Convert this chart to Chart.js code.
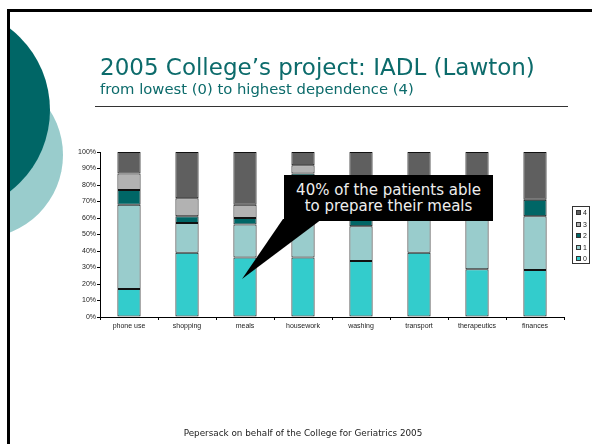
<!DOCTYPE html>
<html>
<head>
<meta charset="utf-8">
<script src="https://cdn.jsdelivr.net/npm/chart.js@4"></script>
<style>
  body { margin: 0; width: 592px; height: 444px; overflow: hidden; background: #fff; position: relative; }
  .slide { position: absolute; left: 7px; top: 9px; width: 700px; height: 600px; border: 3px solid #000; overflow: hidden; }
  .circle { position: absolute; border-radius: 50%; }
  .dark { left: -166px; top: -5px; width: 206px; height: 206px; background: #006666; }
  .light { left: -113px; top: 60px; width: 166px; height: 166px; background: #99cccc; }
  #myChart { position: absolute; left: 0; top: 0; }
  .title { position: absolute; left: 100px; top: 56px; font: 23px/23px "DejaVu Sans", sans-serif; color: #0c6b6b; white-space: nowrap; }
  .subtitle { position: absolute; left: 100px; top: 82px; font: 14.8px/14.8px "DejaVu Sans", sans-serif; color: #0c6b6b; white-space: nowrap; }
  .rule { position: absolute; left: 95px; top: 106px; width: 473px; height: 0; border-top: 1.5px solid #333; }
  .callout { position: absolute; left: 284px; top: 175px; width: 209px; height: 46px; background: #000;
             color: #eee; font: 15px/16.5px "DejaVu Sans", sans-serif; text-align: center;
             display: flex; flex-direction: column; justify-content: center; }
  .legend { position: absolute; left: 572px; top: 206px; width: 16px; height: 56px; border: 1px solid #333; }
  .legend div { position: absolute; left: 3px; font: 7px/7px "Liberation Sans", sans-serif; color: #222; white-space: nowrap; }
  .legend span { display: inline-block; width: 3px; height: 3px; border: 1px solid #333; margin-right: 2px; vertical-align: 0; }
  .footer { position: absolute; left: 0; width: 606px; top: 429px; text-align: center; font: 8.8px/9px "DejaVu Sans", sans-serif; color: #222; }
</style>
</head>
<body>
<div class="slide">
  <div class="circle light"></div>
  <div class="circle dark"></div>
</div>
<canvas id="myChart" width="592" height="444"></canvas>
<div class="title">2005 College’s project: IADL (Lawton)</div>
<div class="subtitle">from lowest (0) to highest dependence (4)</div>
<div class="rule"></div>
<div class="callout"><div>40% of the patients able</div><div>to prepare their meals</div></div>
<div class="legend" id="legend"></div>
<div class="footer">Pepersack on behalf of the College for Geriatrics 2005</div>

<script>
// IADL items and share of patients per dependence level (percent)
const categories = ['phone use', 'shopping', 'meals', 'housework', 'washing', 'transport', 'therapeutics', 'finances'];
const level0 = [17, 39, 36, 36, 34, 39, 29, 28.5];
const level1 = [51, 18, 20, 44, 21, 25, 36, 32.5];
const level2 = [9, 4, 4, 7, 8, 6, 6, 10];
const level3 = [10, 11, 8, 5, 10, 10, 9, 0];
const level4 = [13, 28, 32, 8, 27, 20, 20, 29];
const levelLabels = ['0', '1', '2', '3', '4'];
const levelColors = ['#33cccc', '#99cccc', '#006666', '#b2b2b2', '#5f5f5f'];

const levels = [level0, level1, level2, level3, level4];

// the callout points into the lowest block of the meals bar
const calloutIndex = 2;
const calloutValue = 23;

const datasets = levels.map((values, i) => ({
    label: levelLabels[i],
    data: values,
    backgroundColor: levelColors[i],
    borderColor: '#111',
    borderWidth: 1,
    borderSkipped: false,
    barPercentage: 0.4,
    categoryPercentage: 1
}));

// black wedge from the callout box down to the bar
const calloutWedge = {
    id: 'calloutWedge',
    afterDatasetsDraw(chart) {
        const { ctx, scales: { x, y } } = chart;
        const tipX = x.getPixelForValue(calloutIndex) - 3;
        const tipY = y.getPixelForValue(calloutValue);
        ctx.save();
        ctx.fillStyle = '#000';
        ctx.beginPath();
        ctx.moveTo(283, 219);
        ctx.lineTo(322, 219);
        ctx.lineTo(tipX, tipY);
        ctx.closePath();
        ctx.fill();
        ctx.restore();
    }
};

const tickFont = { family: 'Liberation Sans', size: 7 };

const config = {
    type: 'bar',
    data: { labels: categories, datasets: datasets },
    options: {
        responsive: false,
        animation: false,
        devicePixelRatio: 1,
        layout: { padding: { left: 60, right: 28, top: 152, bottom: 107 } },
        plugins: {
            legend: { display: false },
            tooltip: { enabled: false }
        },
        scales: {
            x: {
                stacked: true,
                afterFit: (scale) => { scale.height = 20; },
                grid: { drawOnChartArea: false, color: '#000', tickLength: 3, offset: true },
                border: { color: '#000', width: 1 },
                ticks: { font: tickFont, color: '#222', padding: 2, maxRotation: 0, autoSkip: false }
            },
            y: {
                stacked: true,
                min: 0,
                max: 100,
                afterFit: (scale) => { scale.width = 40; },
                grid: { drawOnChartArea: false, color: '#000', tickLength: 3 },
                border: { color: '#000', width: 1 },
                ticks: { stepSize: 10, font: tickFont, color: '#222', padding: 1, callback: (v) => v + '%' }
            }
        }
    },
    plugins: [calloutWedge]
};

new Chart(document.querySelector('#myChart').getContext('2d'), config);

// legend, highest level on top
const legendBox = document.querySelector('#legend');
levelLabels.slice().reverse().forEach((lab, k) => {
    const i = levelLabels.length - 1 - k;
    const row = document.createElement('div');
    row.style.top = (2 + k * 11.6) + 'px';
    row.innerHTML = '<span style="background:' + levelColors[i] + '"></span>' + lab;
    legendBox.appendChild(row);
});
</script>
</body>
</html>
